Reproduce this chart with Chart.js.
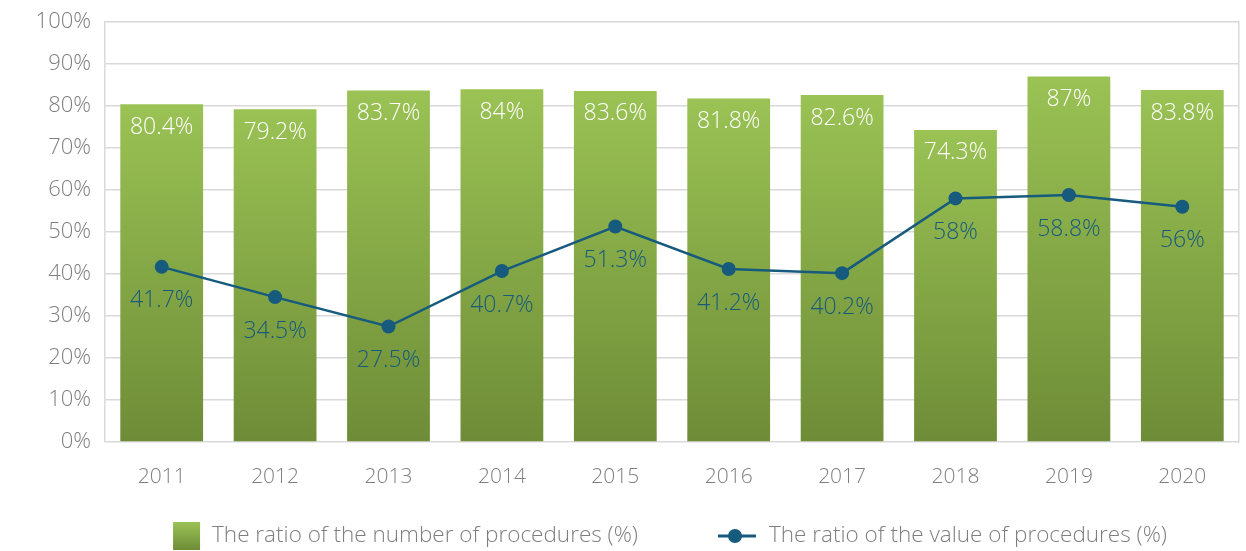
<!DOCTYPE html>
<html>
<head>
<meta charset="utf-8">
<script src="https://cdn.jsdelivr.net/npm/chart.js@4.4.1/dist/chart.umd.min.js"></script>
<style>
    html, body { margin: 0; padding: 0; background: #ffffff; }
    #wrap { width: 1246px; height: 551px; }
</style>
</head>
<body>
<div id="wrap"><canvas id="myChart" width="1246" height="551"></canvas></div>
<script>
const years = ['2011', '2012', '2013', '2014', '2015', '2016', '2017', '2018', '2019', '2020'];
const numberRatio = [80.4, 79.2, 83.7, 84, 83.6, 81.8, 82.6, 74.3, 87, 83.8];
const valueRatio = [41.7, 34.5, 27.5, 40.7, 51.3, 41.2, 40.2, 58, 58.8, 56];
const yTicks = [0, 10, 20, 30, 40, 50, 60, 70, 80, 90, 100];

const fontFamily = '"Open Sans", "DejaVu Sans", sans-serif';
const greenTop = '#9ac254';
const greenBottom = '#6e8c37';
const blue = '#165a7d';
const grey = '#7f7f7f';
const gridGrey = '#d9d9d9';

function barGradient(context) {
    const chart = context.chart;
    const area = chart.chartArea;
    if (!area) return greenTop;
    const top = chart.scales.y.getPixelForValue(context.raw);
    const g = chart.ctx.createLinearGradient(0, top, 0, area.bottom);
    g.addColorStop(0, greenTop);
    g.addColorStop(1, greenBottom);
    return g;
}

// value labels on bars and under line points
const valueLabels = {
    id: 'valueLabels',
    afterDatasetsDraw(chart) {
        const ctx = chart.ctx;
        ctx.save();
        ctx.font = '300 23px ' + fontFamily;
        ctx.textAlign = 'center';
        ctx.textBaseline = 'middle';
        chart.data.datasets.forEach((ds, i) => {
            const meta = chart.getDatasetMeta(i);
            meta.data.forEach((el, j) => {
                if (ds.type === 'line') {
                    ctx.fillStyle = blue;
                    ctx.fillText(ds.data[j] + '%', el.x, el.y + 34);
                } else {
                    ctx.fillStyle = '#ffffff';
                    ctx.fillText(ds.data[j] + '%', el.x, el.y + 23);
                }
            });
        });
        ctx.restore();
    }
};

// legend drawn under the axis, centred on the plot area
const bottomLegend = {
    id: 'bottomLegend',
    afterDraw(chart) {
        const ctx = chart.ctx;
        const area = chart.chartArea;
        const barDs = chart.data.datasets.find(d => d.type === 'bar');
        const lineDs = chart.data.datasets.find(d => d.type === 'line');
        const y = 536;
        ctx.save();
        ctx.font = '300 22.5px ' + fontFamily;
        ctx.textBaseline = 'middle';
        const w1 = ctx.measureText(barDs.label).width;
        const w2 = ctx.measureText(lineDs.label).width;
        const total = 27 + 12 + w1 + 80 + 38 + 13 + w2;
        let x = (area.left + area.right) / 2 - total / 2 - 2;

        const g = ctx.createLinearGradient(0, y - 14, 0, y + 14);
        g.addColorStop(0, greenTop);
        g.addColorStop(1, greenBottom);
        ctx.fillStyle = g;
        ctx.fillRect(x, y - 14, 27, 28);
        x += 27 + 12;
        ctx.fillStyle = grey;
        ctx.fillText(barDs.label, x, y);
        x += w1 + 80;

        ctx.strokeStyle = blue;
        ctx.lineWidth = 3;
        ctx.beginPath();
        ctx.moveTo(x, y);
        ctx.lineTo(x + 38, y);
        ctx.stroke();
        ctx.fillStyle = blue;
        ctx.beginPath();
        ctx.arc(x + 17, y, 7, 0, Math.PI * 2);
        ctx.fill();
        x += 38 + 13;
        ctx.fillStyle = grey;
        ctx.fillText(lineDs.label, x, y);
        ctx.restore();
    }
};

const ctx = document.getElementById('myChart');

new Chart(ctx, {
    type: 'bar',
    data: {
        labels: years,
        datasets: [{
            type: 'bar',
            label: 'The ratio of the number of procedures (%)',
            data: numberRatio,
            backgroundColor: barGradient,
            categoryPercentage: 1,
            barPercentage: 0.73,
            order: 1
        }, {
            type: 'line',
            label: 'The ratio of the value of procedures (%)',
            data: valueRatio,
            borderColor: blue,
            backgroundColor: blue,
            borderWidth: 2.5,
            pointRadius: 7,
            pointBackgroundColor: blue,
            pointBorderWidth: 0,
            tension: 0,
            order: 0
        }]
    },
    options: {
        responsive: false,
        animation: false,
        layout: {
            padding: { top: 22, right: 6, bottom: 49, left: 0 }
        },
        plugins: {
            legend: { display: false },
            tooltip: { enabled: false }
        },
        scales: {
            x: {
                grid: { display: false },
                border: { display: false },
                ticks: {
                    color: grey,
                    padding: 14,
                    font: { family: fontFamily, size: 21, weight: 300 }
                },
                afterFit(scale) {
                    scale.height = 60;
                    scale.paddingLeft = 0;
                    scale.paddingRight = 0;
                }
            },
            y: {
                min: 0,
                max: 100,
                afterBuildTicks(scale) {
                    scale.ticks = yTicks.map(v => ({ value: v }));
                },
                grid: { color: gridGrey, lineWidth: 1.5, drawTicks: false },
                border: { color: gridGrey, width: 1.5 },
                ticks: {
                    color: grey,
                    padding: 14,
                    font: { family: fontFamily, size: 22, weight: 300 },
                    callback: v => v + '%'
                },
                afterFit(scale) {
                    scale.width = 105;
                    scale.paddingTop = 0;
                    scale.paddingBottom = 0;
                }
            },
            y2: {
                position: 'right',
                min: 0,
                max: 100,
                grid: { display: false },
                border: { color: gridGrey, width: 1.5 },
                ticks: { display: false },
                afterFit(scale) { scale.width = 0; }
            }
        }
    },
    plugins: [valueLabels, bottomLegend]
});
</script>
</body>
</html>
